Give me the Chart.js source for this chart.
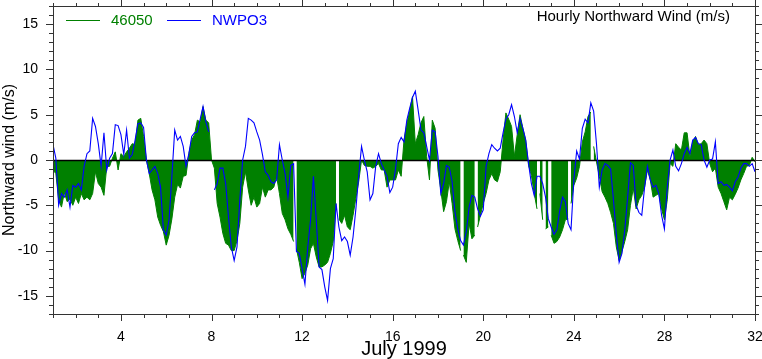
<!DOCTYPE html>
<html>
<head>
<meta charset="utf-8">
<script src="https://cdn.jsdelivr.net/npm/chart.js@4.4.1/dist/chart.umd.min.js"></script>
<style>
  html, body { margin: 0; padding: 0; background: #fff; }
  canvas { display: block; }
</style>
</head>
<body>
<canvas id="grafico" width="762" height="359"></canvas>
<script>
/* dados: vento para o norte, julho 1999, a cada 3 horas a partir do dia 1 */
const startDay = 1
const stepDays = 3 / 24

const windNWPO3 = [
  1.7, 0.2, -5.0, -3.7, -4.1, -3.3, -5.2, -2.8,
  -3.0, -2.6, -3.3, -0.7, 0.7, 1.0, 4.6, 3.7,
  1.8, -0.7, 3.0, -1.1, 0.2, 0.7, 3.9, 3.8,
  2.8, 0.6, 3.3, 0.2, 0.6, 2.2, 4.0, 4.1,
  3.6, 0.0, -1.5, -1.1, -0.7, -1.5, -3.0, -7.7,
  -8.3, -6.6, -1.8, 3.3, 2.2, 2.6, 1.5, -0.7,
  0.7, 2.6, 3.0, 3.1, 4.5, 5.9, 4.2, 3.1,
  null, -3.3, -2.6, -0.9, -0.9, -2.6, -6.3, -9.6,
  -11.1, -9.6, -4.4, 0.0, 1.5, 4.6, 4.4, 4.1,
  3.1, 2.2, 0.6, -1.3, -1.7, -2.4, -2.6, -2.2,
  1.7, 0.0, -1.5, -4.1, -0.6, -0.4, -10.1, -10.3,
  -12.0, -13.7, -9.6, -6.6, -1.8, -6.6, -11.8, -12.1,
  -14.0, -15.5, -12.0, -10.9, -4.8, -7.4, -8.9, -8.5,
  -9.0, -10.5, -8.5, -5.4, -1.7, 1.5, 0.0, -1.3,
  -4.4, -3.7, -0.7, 0.7, -0.4, -1.1, -1.8, -3.6,
  -3.0, -1.0, 1.8, 2.5, 2.0, 4.4, 5.7, 6.9,
  7.6, 5.5, 3.3, 3.0, 1.5, 0.0, 3.3, 3.1,
  0.4, -3.7, -2.6, -0.6, -0.8, -2.4, -5.7, -7.6,
  -8.9, -9.4, -7.9, -5.2, -3.9, -4.1, -5.4, -6.2,
  -5.5, -0.7, 0.7, 1.7, 1.3, 1.0, 1.3, 3.0,
  4.5, 5.0, 6.1, 4.8, 3.0, 4.6, 3.5, 2.2,
  -0.4, -2.6, -3.9, -1.8, -1.8, -2.6, -4.1, -6.5,
  -7.4, -8.2, -7.7, -5.6, -4.1, -4.6, -7.0, -7.7,
  -2.2, 1.0, 0.1, 3.5, 4.5, 4.1, 6.3, 5.4,
  1.8, -3.0, -1.1, -0.4, -0.6, -1.0, -4.4, -8.2,
  -11.3, -10.3, -7.7, -4.1, -0.3, -0.6, -5.0, -5.8,
  -6.1, -3.0, -0.7, -2.2, -3.0, -2.8, -3.7, -6.1,
  -7.6, -3.0, 0.0, 1.1, -0.7, -1.2, -0.4, 0.7,
  1.4, 0.7, 2.2, 2.5, 1.8, 1.7, 0.0, -0.8,
  0.0, 0.1, 2.0, -2.6, -2.4, -2.8, -2.7, -3.0,
  -3.4, -2.4, -1.9, -0.9, -0.4, -0.4, -0.7, -0.4,
  -1.3
]

const wind46050 = [
  -1.1, -1.5, -4.4, -5.2, -3.6, -4.6, -4.3, -5.0,
  -4.1, -4.8, -3.7, -4.4, -4.1, -4.4, -3.7, -1.3,
  -2.6, -3.0, -3.9, -0.7, -0.7, 0.2, 0.9, -1.1,
  0.7, 0.4, 0.9, 1.3, 1.8, 1.7, 4.4, 4.6,
  2.6, 0.0, -1.5, -3.3, -4.4, -6.3, -7.2, -7.9,
  -9.4, -8.3, -6.5, -4.1, -2.7, -3.1, -1.8, -1.7,
  0.7, 2.2, 2.8, 4.4, 4.2, 5.9, 4.4, 4.1,
  0.0, -0.9, -4.8, -6.3, -8.1, -9.2, -9.4, -10.0,
  -10.0, -8.9, -7.0, -3.0, -1.3, -3.3, -5.0, -4.1,
  -5.2, -4.8, -3.0, -4.1, -3.3, -3.3, -3.0, -1.8,
  -3.7, -5.9, -6.6, -7.6, -8.2, -9.0, -9.8, -11.3,
  -13.1, -12.5, -11.6, -9.8, -9.2, -10.7, -11.8, -11.8,
  -11.6, -11.3, -10.3, -9.0, -4.8, -6.5, -7.0, -6.1,
  -7.4, -7.7, -6.1, -4.2, -2.4, 0.0, -0.6, -0.7,
  -0.7, -0.9, -0.7, -0.4, -1.1, -1.1, -3.0, -2.2,
  -2.2, -2.2, -1.1, -1.8, 2.2, 4.0, 5.4, 7.0,
  1.8, 2.8, 4.1, 4.8, 0.4, -2.2, 4.4, 3.5,
  -1.1, -3.3, -5.7, -4.6, -2.4, -4.8, -7.6, -8.9,
  -10.0, -10.5, -11.3, -7.0, -8.7, -8.3, -7.4, -6.1,
  -4.8, -3.7, -2.2, -1.5, -2.2, -2.4, -1.3, 2.2,
  5.2, 4.5, 3.7, 0.4, 2.8, 5.0, 3.5, 2.2,
  -0.6, -1.7, -3.7, -5.4, -3.7, -6.6, -7.6, -7.4,
  -8.3, -9.2, -9.0, -8.5, -7.7, -6.6, -6.5, -4.8,
  -2.8, -2.0, -0.7, 2.0, 3.1, 4.8, 5.3, 1.5,
  -0.2, -1.8, -3.5, -4.1, -4.8, -5.8, -7.0, -9.6,
  -11.1, -10.1, -9.0, -7.7, -5.0, -3.1, -5.4, -4.4,
  -3.9, -3.0, -1.1, -2.2, -4.1, -3.9, -3.7, -5.4,
  -6.6, -4.4, -0.4, -0.7, 1.8, 1.4, 1.1, 3.0,
  3.0, 0.4, 2.0, 2.6, 1.7, 1.8, 2.2, 1.8,
  -0.4, -1.3, -0.9, -3.0, -3.7, -4.6, -5.5, -4.1,
  -4.4, -3.8, -3.1, -2.2, -1.5, -0.7, -0.6, 0.3,
  -0.2
]

/* horas sem dado na boia 46050 (dia do mes) */
const gaps46050 = [11.67, 13.6, 19.08, 19.7, 22.39, 22.69, 22.96, 23.87, 24.8]

const xTickLabels = [4, 8, 12, 16, 20, 24, 28, 32]
const yTickLabels = [-15, -10, -5, 0, 5, 10, 15]

const verde = "rgb(0,128,0)"
const azul = "rgb(0,0,255)"
const fonte = "'Liberation Sans', Arial, Helvetica, sans-serif"

/* monta os pontos {x,y} e coloca nulls nas falhas */
function montaPontos(valores, falhas){
    let pontos = valores.map((v, i) => ({ x: startDay + i * stepDays, y: v }))
    falhas.forEach(f => pontos.push({ x: f, y: null }))
    pontos.sort((a, b) => a.x - b.x)
    return pontos
}

/* zera o espaco extra que o Chart.js reserva para os rotulos das pontas */
function semPadding(s){
    s.paddingTop = 0
    s.paddingBottom = 0
    s.paddingLeft = 0
    s.paddingRight = 0
}

/* moldura, ticks para fora, linha do zero, legenda e titulo */
const moldura = {
    id: 'moldura',
    afterDatasetDraw(chart, args){
        if (args.index !== 0) return
        const { ctx, chartArea: a, scales: { y } } = chart
        const y0 = Math.round(y.getPixelForValue(0)) + 0.5
        ctx.save()
        ctx.strokeStyle = "#000"
        ctx.lineWidth = 1.6
        ctx.beginPath()
        ctx.moveTo(a.left, y0)
        ctx.lineTo(a.right, y0)
        ctx.stroke()
        ctx.restore()
    },
    afterDraw(chart){
        const { ctx, chartArea: a, scales: { x, y } } = chart
        ctx.save()
        ctx.strokeStyle = "#333"
        ctx.lineWidth = 1
        ctx.strokeRect(a.left + 0.5, a.top + 0.5, a.right - a.left, a.bottom - a.top)
        ctx.beginPath()
        for (let d = 1; d <= 32; d++) {
            const px = Math.round(x.getPixelForValue(d)) + 0.5
            const maior = xTickLabels.includes(d)
            ctx.moveTo(px, a.bottom); ctx.lineTo(px, a.bottom + (maior ? 7 : 4))
            ctx.moveTo(px, a.top); ctx.lineTo(px, a.top - (maior ? 6 : 3))
        }
        for (let v = -17; v <= 17; v++) {
            const py = Math.round(y.getPixelForValue(v)) + 0.5
            const maior = yTickLabels.includes(v)
            ctx.moveTo(a.left, py); ctx.lineTo(a.left - (maior ? 7 : 4), py)
            ctx.moveTo(a.right, py); ctx.lineTo(a.right + (maior ? 7 : 4), py)
        }
        ctx.stroke()

        ctx.font = "15px " + fonte
        ctx.textBaseline = "middle"
        ctx.textAlign = "right"
        ctx.fillStyle = "#000"
        ctx.fillText("Hourly Northward Wind (m/s)", a.right - 25, a.top + 11)

        ctx.textAlign = "left"
        const ds = chart.data.datasets
        const itens = [{ x0: a.left + 13, ds: ds[0] }, { x0: a.left + 114, ds: ds[1] }]
        itens.forEach(it => {
            ctx.strokeStyle = it.ds.borderColor
            ctx.lineWidth = 1
            ctx.beginPath()
            ctx.moveTo(it.x0, a.top + 14.5)
            ctx.lineTo(it.x0 + 34, a.top + 14.5)
            ctx.stroke()
            ctx.fillStyle = it.ds.borderColor
            ctx.fillText(it.ds.label, it.x0 + 45, a.top + 15)
        })
        ctx.restore()
    }
}

const grafico = document.getElementById("grafico")
const graficoVento = new Chart(grafico, {
    type: 'line',
    data: {
      datasets: [{
        label: '46050',
        data: montaPontos(wind46050, gaps46050),
        borderColor: verde,
        backgroundColor: verde,
        borderWidth: 1,
        fill: 'origin',
        pointRadius: 0,
        tension: 0,
        order: 1
      }, {
        label: 'NWPO3',
        data: montaPontos(windNWPO3, []),
        borderColor: azul,
        borderWidth: 1.1,
        fill: false,
        pointRadius: 0,
        tension: 0,
        order: 0
      }]
    },
    options: {
      responsive: false,
      animation: false,
      devicePixelRatio: 1,
      layout: { padding: { top: 6, right: 7, left: 0, bottom: 0 } },
      plugins: { legend: { display: false }, tooltip: { enabled: false } },
      scales: {
        x: {
          type: 'linear',
          min: 1,
          max: 32,
          afterBuildTicks: s => { s.ticks = xTickLabels.map(v => ({ value: v })) },
          afterFit: s => { s.height = 45; semPadding(s) },
          grid: { display: false, drawTicks: false },
          border: { display: false },
          ticks: { color: "#000", font: { family: fonte, size: 14 }, padding: 15, maxRotation: 0 },
          title: { display: true, text: 'July 1999', color: "#000", font: { family: fonte, size: 20 }, padding: { top: 0, bottom: -2 } }
        },
        y: {
          min: -17,
          max: 17,
          afterBuildTicks: s => { s.ticks = yTickLabels.map(v => ({ value: v })) },
          afterFit: s => { s.width = 53; semPadding(s) },
          grid: { display: false, drawTicks: false },
          border: { display: false },
          ticks: { color: "#000", font: { family: fonte, size: 14 }, padding: 15 },
          title: { display: true, text: 'Northward wind (m/s)', color: "#000", font: { family: fonte, size: 16 }, padding: 0 }
        }
      }
    },
    plugins: [moldura]
});
</script>
</body>
</html>
